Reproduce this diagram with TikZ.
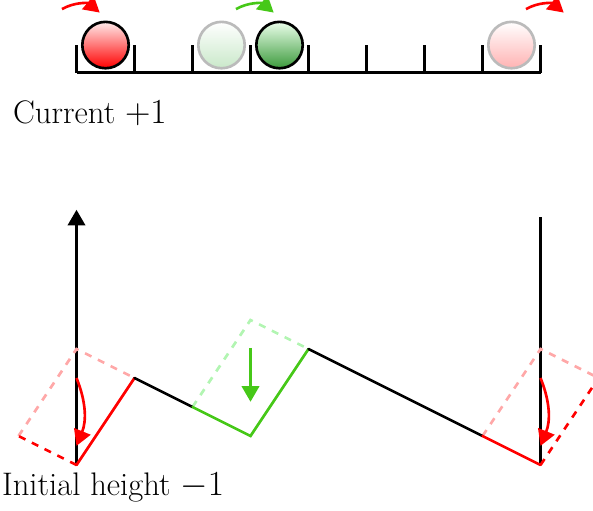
\documentclass[tikz,border=0pt]{standalone}
\usepackage{amsmath,amssymb}
\usepackage{xcolor}
\usepackage{tikz}
\usetikzlibrary{calc,arrows.meta}
\definecolor{redx}{HTML}{FF0000}
\definecolor{greenx}{HTML}{46C818}
\definecolor{redghost}{HTML}{FFA8A8}
\definecolor{greenghost}{HTML}{B2F5B2}
\definecolor{ballgray}{HTML}{BBBBBB}
\definecolor{ballgreen}{HTML}{3C9A3C}
\tikzset{
  seg/.style={line width=1.3pt,line cap=round},
  ghost/.style={line width=1.3pt,dash pattern=on 3.5pt off 3.5pt},
  tip/.style={-{Triangle[length=2.7mm,width=3mm]}},
  rar/.style={tip,line width=1.3pt,redx},
  ball/.style={circle,draw=black,line width=1.3pt,minimum size=8mm,inner sep=0pt},
  lab/.style={font=\fontsize{16}{19}\selectfont,anchor=base west,inner sep=0pt}
}
\begin{document}
\begin{tikzpicture}[x=1cm,y=1cm]
\clip (-1.319,-0.793) rectangle (8.905,8.017);
% top row
\draw[line width=1.4pt] (0,6.76) -- (8,6.76);
\foreach \i in {0,...,8}
  \draw[line width=1.4pt] (\i,6.76) -- (\i,7.24);
\node[ball,top color=red!8,bottom color=redx] (b1) at (0.5,7.24) {};
\node[ball,draw=ballgray,top color=white,bottom color=green!40!gray!30] (g3) at (2.5,7.24) {};
\node[ball,top color=green!8,bottom color=ballgreen] (b4) at (3.5,7.24) {};
\node[ball,draw=ballgray,top color=white,bottom color=red!30] (g8) at (7.5,7.24) {};
\draw[rar] ([shift={(-0.75,0.62)}]b1.center) to[bend left=35] ([shift={(-0.1,0.56)}]b1.center);
\draw[rar,greenx] ([shift={(-0.75,0.62)}]b4.center) to[bend left=35] ([shift={(-0.1,0.56)}]b4.center);
\draw[rar] ([shift={(0.25,0.62)}]g8.center) to[bend left=35] ([shift={(0.9,0.56)}]g8.center);
\node[lab] (cur) at (-1.1,5.88) {Current $+1$};
% path
\coordinate (p0) at (0,0);
\coordinate (p1) at (1,1.5);
\coordinate (p2) at (2,1);
\coordinate (p3) at (3,0.5);
\coordinate (p4) at (4,2);
\coordinate (p7) at (7,0.5);
\coordinate (p8) at (8,0);
\coordinate (q0) at (-1,0.5);
\coordinate (q1) at (0,2);
\coordinate (q2) at (3,2.5);
\coordinate (q3) at (8,2);
\coordinate (q4) at (9,1.5);
\coordinate (top0) at (0,4.4);
\coordinate (top8) at (8,4.27);
\draw[line width=1.3pt,tip] (p0) -- (top0);
\draw[line width=1.3pt] (p8) -- (top8);
\draw[ghost,redghost] (q0) -- (q1) -- (p1);
\draw[ghost,redx] (p0) -- (q0);
\draw[ghost,greenghost] (p2) -- (q2) -- (p4);
\draw[ghost,redghost] (p7) -- (q3) -- (q4);
\draw[ghost,redx] (p8) -- (q4);
\draw[seg,redx] (p0) -- (p1);
\draw[seg] (p1) -- (p2);
\draw[seg,greenx] (p2) -- (p3) -- (p4);
\draw[seg] (p4) -- (p7);
\draw[seg,redx] (p7) -- (p8);
\draw[rar] (0,1.5) to[bend left=22] (0,0.33);
\draw[rar] (8,1.5) to[bend left=22] (8,0.33);
\draw[tip,line width=1.3pt,greenx] (3,2.02) -- (3,1.09);
\node[lab] (init) at (-1.29,-0.53) {Initial height $-1$};
\end{tikzpicture}
\end{document}
